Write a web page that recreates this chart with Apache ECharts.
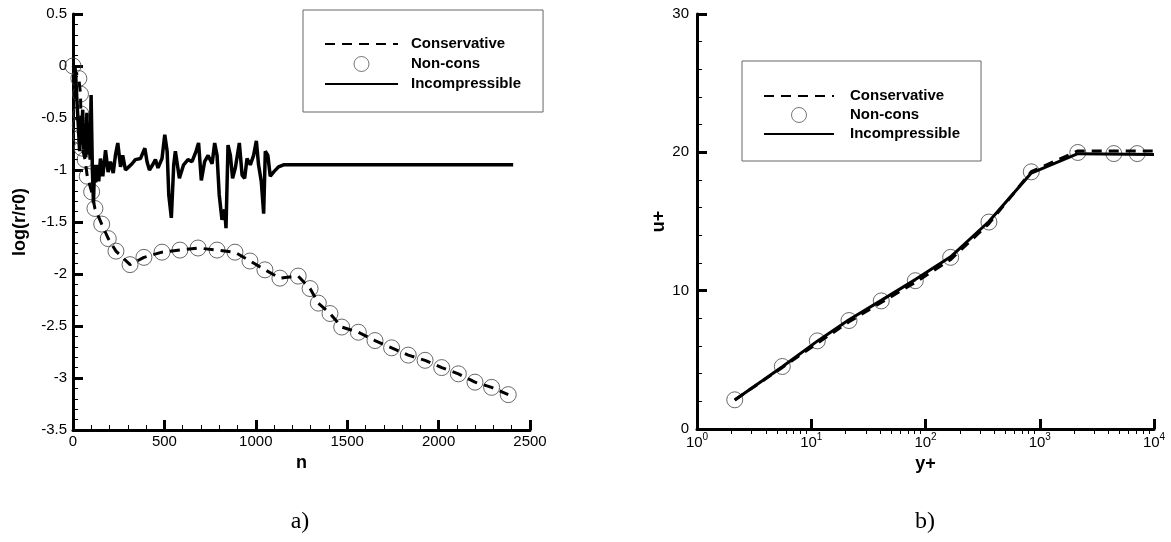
<!DOCTYPE html>
<html>
<head>
<meta charset="utf-8">
<script src="https://cdn.jsdelivr.net/npm/echarts@6/dist/echarts.min.js"></script>
<style>
html,body{margin:0;padding:0;background:#fff;}
#chart{width:1171px;height:542px;}
</style>
</head>
<body>
<div id="chart"></div>
<script>
// ---- Plot a) convergence history ----
const incN = [10,15,22,30,36,42,47,53,58,64,70,76,82,88,94,99,106,112,118,124,132,141,150,163,178,192,205,220,232,245,260,272,287,305,323,341,369,393,405,418,436,451,465,487,502,515,524,538,551,560,582,605,629,651,673,687,702,720,739,761,775,788,800,815,830,837,848,861,873,888,910,925,939,952,970,988,1003,1015,1030,1043,1052,1066,1079,1097,1124,1152,1200,2408];
const incV = [0.0,-0.1,-0.35,-0.6,-0.82,-0.5,-0.75,-0.42,-0.8,-0.55,-0.88,-0.45,-0.85,-0.7,-0.9,-0.28,-1.0,-1.32,-0.95,-1.12,-0.95,-1.11,-0.89,-1.06,-0.81,-1.02,-0.92,-1.03,-0.86,-0.74,-0.97,-0.86,-1.0,-0.97,-0.94,-0.9,-0.89,-0.79,-0.92,-1.0,-0.95,-0.9,-0.98,-0.89,-0.66,-0.82,-1.24,-1.46,-0.95,-0.82,-1.08,-0.95,-0.9,-0.92,-0.82,-0.74,-1.1,-0.92,-0.86,-0.94,-0.74,-0.86,-1.24,-1.48,-1.38,-1.56,-0.76,-0.86,-1.08,-0.98,-0.74,-1.05,-1.08,-0.89,-0.95,-0.86,-0.72,-0.95,-1.11,-1.42,-0.82,-0.86,-1.06,-1.02,-0.97,-0.95,-0.95,-0.95];

const consN = [0,32,41,43,40,44,50,66,78,102,120,157,193,235,312,388,487,585,684,788,886,968,1050,1132,1232,1297,1342,1406,1470,1561,1652,1743,1834,1926,2017,2108,2199,2290,2381];
const consV = [0.0,-0.12,-0.27,-0.46,-0.57,-0.68,-0.79,-0.9,-1.06,-1.21,-1.37,-1.52,-1.66,-1.78,-1.91,-1.84,-1.79,-1.77,-1.75,-1.77,-1.79,-1.875,-1.96,-2.04,-2.02,-2.14,-2.28,-2.38,-2.51,-2.56,-2.64,-2.71,-2.78,-2.83,-2.90,-2.96,-3.04,-3.09,-3.16];

const nonconsN = [0,32,41,43,40,44,50,66,78,102,120,157,193,235,312,388,487,585,684,788,886,968,1050,1132,1232,1297,1342,1406,1470,1561,1652,1743,1834,1926,2017,2108,2199,2290,2381];
const nonconsV = [0.0,-0.12,-0.27,-0.46,-0.57,-0.68,-0.79,-0.9,-1.06,-1.21,-1.37,-1.52,-1.66,-1.78,-1.91,-1.84,-1.79,-1.77,-1.75,-1.77,-1.79,-1.875,-1.96,-2.04,-2.02,-2.14,-2.28,-2.38,-2.51,-2.56,-2.64,-2.71,-2.78,-2.83,-2.90,-2.96,-3.04,-3.09,-3.16];

// ---- Plot b) velocity profile ----
const yPlusInc = [2.14,5.58,11.3,21.4,41.0,81.4,166,359,843,2154,10000];
const uInc     = [2.1,4.5,6.35,7.9,9.3,10.8,12.45,15.0,18.5,19.9,19.85];
const yPlusCons = [2.14,5.58,11.3,21.4,41.0,81.4,166,359,843,2154,10000];
const uCons     = [2.1,4.45,6.2,7.75,9.15,10.6,12.25,14.85,18.6,20.1,20.1];
const yPlusNon = [2.14,5.58,11.3,21.4,41.0,81.4,166,359,843,2154,4450,7130];
const uNon     = [2.11,4.52,6.37,7.84,9.26,10.72,12.41,14.96,18.59,19.99,19.91,19.91];

const legendNames = ['Conservative','Non-cons','Incompressible'];
const logMinor = [2,3,4,5,6,7,8,9,20,30,40,50,60,70,80,90,200,300,400,500,600,700,800,900,2000,3000,4000,5000,6000,7000,8000,9000];

const zip = (a,b) => a.map((v,i) => [v,b[i]]);
const FONT = 'Liberation Sans';
const LBL = 15;

const axisCommon = {
  axisLine:{show:true, onZero:false, lineStyle:{color:'#000', width:3}},
  axisTick:{show:true, inside:true, length:10, lineStyle:{color:'#000', width:3}},
  minorTick:{show:true, splitNumber:5, length:5, lineStyle:{color:'#000', width:1}},
  splitLine:{show:false},
  minorSplitLine:{show:false},
  nameLocation:'middle',
  nameTextStyle:{fontFamily:FONT, fontWeight:'bold', fontSize:18, color:'#000'}
};

const chart = echarts.init(document.getElementById('chart'), null, {renderer:'canvas'});
const lineSty = {color:'#000', width:3};
const dashSty = {color:'#000', width:3, type:[10,7]};
const circSty = {color:'rgba(0,0,0,0)', borderColor:'#444', borderWidth:1};
const noSym = {color:'rgba(0,0,0,0)', borderWidth:0, opacity:0};

const legendData = [
  {name:legendNames[0], itemStyle:noSym},
  {name:legendNames[1], itemStyle:{color:'rgba(0,0,0,0)', borderColor:'#555', borderWidth:1}},
  {name:legendNames[2], itemStyle:noSym}
];

const option = {
  animation:false,
  backgroundColor:'#fff',
  textStyle:{fontFamily:FONT},
  grid:[
    {left:73, top:14, width:457, height:416},
    {left:697, top:14, width:457, height:415}
  ],
  xAxis:[
    Object.assign({}, axisCommon, {
      gridIndex:0, type:'value', min:0, max:2500, interval:500,
      name:'n', nameGap:18,
      axisLabel:{color:'#000', fontSize:LBL, margin:4, fontFamily:FONT, formatter: v => String(v)}
    }),
    Object.assign({}, axisCommon, {
      gridIndex:1, type:'log', logBase:10, min:1, max:10000,
      name:'y+', nameGap:18,
      minorTick:{show:false},
      axisLabel:{
        margin:3,
        formatter: v => '{b|10}{s|' + Math.round(Math.log10(v)) + '}',
        rich:{
          b:{fontSize:LBL, color:'#000', fontFamily:FONT, lineHeight:18, verticalAlign:'bottom'},
          s:{fontSize:10, color:'#000', fontFamily:FONT, lineHeight:18, verticalAlign:'top', padding:[0,0,6,0]}
        }
      }
    }),
    {
      gridIndex:1, type:'log', logBase:10, min:1, max:10000,
      axisLine:{show:false}, axisLabel:{show:false}, splitLine:{show:false},
      axisTick:{show:true, inside:true, length:5, customValues:logMinor, lineStyle:{color:'#000', width:1}}
    }
  ],
  yAxis:[
    Object.assign({}, axisCommon, {
      gridIndex:0, type:'value', min:-3.5, max:0.5, interval:0.5,
      name:'log(r/r0)', nameGap:44,
      axisLabel:{color:'#000', fontSize:LBL, margin:6, fontFamily:FONT, formatter: v => String(v)}
    }),
    Object.assign({}, axisCommon, {
      gridIndex:1, type:'value', min:0, max:30, interval:10,
      name:'u+', nameGap:29,
      axisLabel:{color:'#000', fontSize:LBL, margin:8, fontFamily:FONT}
    })
  ],
  legend:[
    {
      data:legendData, orient:'vertical', left:303, top:10,
      itemWidth:73, itemHeight:15, itemGap:4,
      padding:[26,22,20,21], borderColor:'#666', borderWidth:1,
      selectedMode:false,
      textStyle:{fontFamily:FONT, fontSize:15, fontWeight:'bold', color:'#000', padding:[0,0,0,8], lineHeight:16}
    },
    {
      data:legendData, orient:'vertical', left:742, top:61,
      itemWidth:70, itemHeight:15, itemGap:3,
      padding:[27,21,19,21], borderColor:'#666', borderWidth:1,
      selectedMode:false,
      textStyle:{fontFamily:FONT, fontSize:15, fontWeight:'bold', color:'#000', padding:[0,0,0,11], lineHeight:16}
    }
  ],
  series:[
    {name:'Incompressible', type:'line', xAxisIndex:0, yAxisIndex:0, data:zip(incN,incV), symbol:'none', lineStyle:{color:'#000', width:3.5}, itemStyle:{color:'#000'}},
    {name:'Conservative', type:'line', xAxisIndex:0, yAxisIndex:0, data:zip(consN,consV), symbol:'none', lineStyle:dashSty, itemStyle:{color:'#000'}},
    {name:'Non-cons', type:'scatter', xAxisIndex:0, yAxisIndex:0, data:zip(nonconsN,nonconsV), symbol:'circle', symbolSize:16, itemStyle:circSty},
    {name:'Incompressible', type:'line', xAxisIndex:1, yAxisIndex:1, data:zip(yPlusInc,uInc), symbol:'none', lineStyle:lineSty, itemStyle:{color:'#000'}},
    {name:'Conservative', type:'line', xAxisIndex:1, yAxisIndex:1, data:zip(yPlusCons,uCons), symbol:'none', lineStyle:dashSty, itemStyle:{color:'#000'}},
    {name:'Non-cons', type:'scatter', xAxisIndex:1, yAxisIndex:1, data:zip(yPlusNon,uNon), symbol:'circle', symbolSize:16, itemStyle:circSty}
  ],
  graphic:[
    {type:'text', x:300, y:522, style:{text:'a)', font:'24px "Liberation Serif"', fill:'#000', align:'center', verticalAlign:'middle'}},
    {type:'text', x:925, y:522, style:{text:'b)', font:'24px "Liberation Serif"', fill:'#000', align:'center', verticalAlign:'middle'}}
  ]
};
chart.setOption(option);
</script>
</body>
</html>
